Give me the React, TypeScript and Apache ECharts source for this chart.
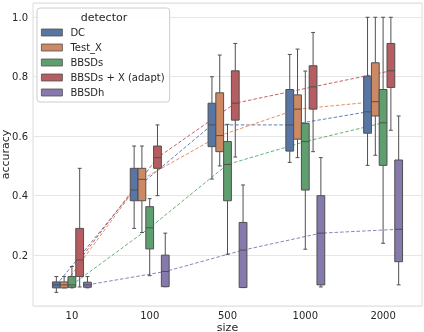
import React, { useEffect, useRef } from "react";
import * as echarts from "echarts";

const sizes = ["10", "100", "500", "1000", "2000"];
const detectors = ["DC", "Test_X", "BBSDs", "BBSDs + X (adapt)", "BBSDh"];

// [min, q1, median, q3, max] per size
const dcStats = [
  [0.075, 0.09, 0.1, 0.11, 0.128],
  [0.29, 0.383, 0.419, 0.492, 0.567],
  [0.456, 0.565, 0.638, 0.711, 0.8],
  [0.512, 0.55, 0.638, 0.757, 0.875],
  [0.502, 0.61, 0.682, 0.802, 1.0],
];
const testXStats = [
  [0.09, 0.09, 0.1, 0.11, 0.128],
  [0.276, 0.383, 0.455, 0.492, 0.567],
  [0.5, 0.548, 0.602, 0.746, 0.873],
  [0.528, 0.59, 0.691, 0.739, 0.893],
  [0.536, 0.668, 0.716, 0.847, 1.0],
];
const bbsdsStats = [
  [0.09, 0.092, 0.1, 0.128, 0.162],
  [0.131, 0.221, 0.292, 0.363, 0.39],
  [0.203, 0.383, 0.505, 0.582, 0.64],
  [0.22, 0.419, 0.582, 0.643, 0.819],
  [0.24, 0.502, 0.645, 0.757, 1.0],
];
const bbsdsXStats = [
  [0.093, 0.128, 0.184, 0.29, 0.492],
  [0.4, 0.492, 0.528, 0.567, 0.638],
  [0.53, 0.654, 0.711, 0.82, 0.912],
  [0.548, 0.691, 0.766, 0.837, 0.949],
  [0.62, 0.764, 0.82, 0.912, 1.0],
];
const bbsdhStats = [
  [0.09, 0.092, 0.1, 0.109, 0.128],
  [0.094, 0.094, 0.145, 0.2, 0.274],
  [0.091, 0.091, 0.217, 0.31, 0.436],
  [0.093, 0.1, 0.274, 0.4, 0.528],
  [0.1, 0.178, 0.287, 0.52, 0.668],
];

const allStats = [dcStats, testXStats, bbsdsStats, bbsdsXStats, bbsdhStats];
const boxColors = ["#5875a4", "#cc8963", "#5f9e6e", "#b55d60", "#857aab"];
const lineColors = ["#4c72b0", "#dd8452", "#55a868", "#c44e52", "#8172b3"];
const EDGE = "#505050";
const FONT = "DejaVu Sans";

export default function App() {
  const ref = useRef<HTMLDivElement>(null);
  useEffect(() => {
    if (!ref.current) return;
    const chart = echarts.init(ref.current, null, { renderer: "svg" });

    const boxSeries = detectors.map((name, d) => ({
      type: "custom",
      name,
      z: 3,
      itemStyle: { color: boxColors[d] },
      encode: { x: 0, y: [1, 2, 3, 4, 5] },
      data: allStats[d].map((s, i) => [i, ...s]),
      renderItem: (params: any, api: any) => {
        const cat = api.value(0);
        const bw = api.size([1, 0])[0];
        const w = bw * 0.1;
        const cx = api.coord([cat, 0])[0] + (d - 2) * w;
        const y = (v: number) => api.coord([cat, v])[1];
        const yMin = y(api.value(1));
        const yQ1 = y(api.value(2));
        const yMed = y(api.value(3));
        const yQ3 = y(api.value(4));
        const yMax = y(api.value(5));
        const half = w / 2;
        const cap = w / 4;
        const ls = { stroke: EDGE, lineWidth: 1 };
        return {
          type: "group",
          children: [
            { type: "line", shape: { x1: cx, y1: yQ1, x2: cx, y2: yMin }, style: ls },
            { type: "line", shape: { x1: cx, y1: yQ3, x2: cx, y2: yMax }, style: ls },
            { type: "line", shape: { x1: cx - cap, y1: yMin, x2: cx + cap, y2: yMin }, style: ls },
            { type: "line", shape: { x1: cx - cap, y1: yMax, x2: cx + cap, y2: yMax }, style: ls },
            {
              type: "rect",
              shape: { x: cx - half, y: yQ3, width: 2 * half, height: yQ1 - yQ3 },
              style: { fill: boxColors[d], stroke: EDGE, lineWidth: 1 },
            },
            { type: "line", shape: { x1: cx - half, y1: yMed, x2: cx + half, y2: yMed }, style: ls },
          ],
        };
      },
    }));

    const lineSeries = detectors.map((name, d) => ({
      type: "line",
      name: name + " median",
      xAxisIndex: 1,
      z: 1,
      symbol: "none",
      silent: true,
      lineStyle: { color: lineColors[d], width: 1, type: [3.5, 2], opacity: 0.9 },
      data: allStats[d].map((s, i) => [i + (d - 2) * 0.1, s[2]]),
    }));

    chart.setOption({
      animation: false,
      textStyle: { fontFamily: FONT },
      grid: {
        left: 33,
        right: 2,
        top: 3,
        bottom: 26,
        show: true,
        borderColor: "#dcdcdc",
        borderWidth: 1,
        containLabel: false,
        outerBoundsMode: "none",
      },
      xAxis: [
        {
          type: "category",
          data: sizes,
          boundaryGap: true,
          axisLine: { show: false },
          axisTick: { show: false },
          splitLine: { show: false },
          axisLabel: {
            fontSize: 10,
            lineHeight: 10,
            color: "#262626",
            margin: 4.5,
            fontFamily: FONT,
          },
          name: "size",
          nameLocation: "middle",
          nameGap: 16,
          nameMoveOverlap: false,
          nameTextStyle: { fontSize: 11, lineHeight: 10, color: "#262626", fontFamily: FONT },
        },
        { type: "value", min: -0.5, max: 4.5, show: false },
      ],
      yAxis: {
        type: "value",
        min: 0.029,
        max: 1.048,
        splitNumber: 5,
        axisLine: { show: false },
        axisTick: { show: false },
        splitLine: { lineStyle: { color: "#e6e6e6", width: 1 } },
        axisLabel: {
          fontSize: 10,
          color: "#262626",
          margin: 5,
          showMinLabel: false,
          showMaxLabel: false,
          fontFamily: FONT,
          formatter: (v: number) => v.toFixed(1),
        },
        name: "accuracy",
        nameLocation: "middle",
        nameGap: 22,
        nameMoveOverlap: false,
        nameTextStyle: { fontSize: 11, color: "#262626", fontFamily: FONT },
      },
      legend: {
        data: detectors,
        orient: "vertical",
        left: 37,
        top: 8,
        padding: [17, 5, 2, 4],
        itemWidth: 21,
        itemHeight: 7,
        itemGap: 0,
        icon: "rect",
        selectedMode: false,
        backgroundColor: "rgba(255,255,255,0.85)",
        borderColor: "#cccccc",
        borderWidth: 1,
        borderRadius: 3,
        itemStyle: { borderColor: EDGE, borderWidth: 0.8 },
        textStyle: {
          fontSize: 10,
          color: "#262626",
          lineHeight: 15,
          padding: [0, 0, 0, 3],
          fontFamily: FONT,
        },
        z: 10,
      },
      graphic: [
        {
          type: "text",
          z: 100,
          x: 104,
          y: 17,
          style: {
            text: "detector",
            fontSize: 11,
            fill: "#262626",
            fontFamily: FONT,
            textAlign: "center",
            textVerticalAlign: "middle",
          },
        },
      ],
      series: [...lineSeries, ...boxSeries],
    });
    return () => chart.dispose();
  }, []);
  return (
    <div
      ref={ref}
      style={{ position: "fixed", left: 0, top: 0, width: 424, height: 332 }}
    />
  );
}
